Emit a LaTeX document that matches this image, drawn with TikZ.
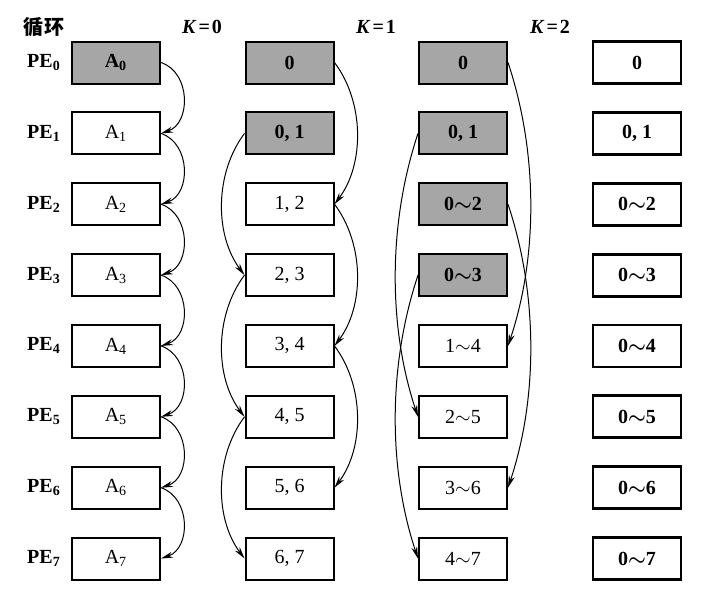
\documentclass[tikz,border=0pt]{standalone}
\usepackage{fontspec}
\setmainfont{Liberation Serif}
\newfontfamily\cjk{Noto Sans CJK SC}
\usetikzlibrary{arrows.meta}
\tikzset{
  cell/.style={draw, line width=1pt, minimum width=44pt, minimum height=21pt, inner sep=0pt, font=\normalsize},
  busy/.style={cell, fill=black!35, font=\normalsize\bfseries\boldmath},
  done/.style={cell, line width=1.4pt, font=\normalsize\bfseries\boldmath},
  hop/.style={-{Stealth[length=6pt,width=3pt]}, line width=0.5pt},
}

\begin{document}
\begin{tikzpicture}[x=0.5pt,y=-0.5pt]
\useasboundingbox (0,0) rectangle (710,601);
% headings
\draw(44,27) node (loop) {\cjk\bfseries 循环};
\draw(202,27) node (k0) {\textbf{\textit{K}\kern1pt=\kern1pt0}};
\draw(376,27) node (k1) {\textbf{\textit{K}\kern1pt=\kern1pt1}};
\draw(550,27) node (k2) {\textbf{\textit{K}\kern1pt=\kern1pt2}};
% processors
\draw(44,62.5) node (pe0) {\textbf{PE\textsubscript{0}}};
\draw(44,133.4) node (pe1) {\textbf{PE\textsubscript{1}}};
\draw(44,204.2) node (pe2) {\textbf{PE\textsubscript{2}}};
\draw(44,275.1) node (pe3) {\textbf{PE\textsubscript{3}}};
\draw(44,345.9) node (pe4) {\textbf{PE\textsubscript{4}}};
\draw(44,416.8) node (pe5) {\textbf{PE\textsubscript{5}}};
\draw(44,487.7) node (pe6) {\textbf{PE\textsubscript{6}}};
\draw(44,558.5) node (pe7) {\textbf{PE\textsubscript{7}}};
% K=0
\draw(116,62.5) node[busy] (a0) {A\textsubscript{0}};
\draw(116,133.4) node[cell] (a1) {A\textsubscript{1}};
\draw(116,204.2) node[cell] (a2) {A\textsubscript{2}};
\draw(116,275.1) node[cell] (a3) {A\textsubscript{3}};
\draw(116,345.9) node[cell] (a4) {A\textsubscript{4}};
\draw(116,416.8) node[cell] (a5) {A\textsubscript{5}};
\draw(116,487.7) node[cell] (a6) {A\textsubscript{6}};
\draw(116,558.5) node[cell] (a7) {A\textsubscript{7}};
% K=1
\draw(289.5,62.5) node[busy] (b0) {0};
\draw(289.5,133.4) node[busy] (b1) {0, 1};
\draw(289.5,204.2) node[cell] (b2) {1, 2};
\draw(289.5,275.1) node[cell] (b3) {2, 3};
\draw(289.5,345.9) node[cell] (b4) {3, 4};
\draw(289.5,416.8) node[cell] (b5) {4, 5};
\draw(289.5,487.7) node[cell] (b6) {5, 6};
\draw(289.5,558.5) node[cell] (b7) {6, 7};
% K=2
\draw(463,62.5) node[busy] (c0) {0};
\draw(463,133.4) node[busy] (c1) {0, 1};
\draw(463,204.2) node[busy] (c2) {0$\sim$2};
\draw(463,275.1) node[busy] (c3) {0$\sim$3};
\draw(463,345.9) node[cell] (c4) {1$\sim$4};
\draw(463,416.8) node[cell] (c5) {2$\sim$5};
\draw(463,487.7) node[cell] (c6) {3$\sim$6};
\draw(463,558.5) node[cell] (c7) {4$\sim$7};
% result
\draw(637,62.5) node[done] (d0) {0};
\draw(637,133.4) node[done] (d1) {0, 1};
\draw(637,204.2) node[done] (d2) {0$\sim$2};
\draw(637,275.1) node[done] (d3) {0$\sim$3};
\draw(637,345.9) node[done] (d4) {0$\sim$4};
\draw(637,416.8) node[done] (d5) {0$\sim$5};
\draw(637,487.7) node[done] (d6) {0$\sim$6};
\draw(637,558.5) node[done] (d7) {0$\sim$7};

\draw[hop] (a0.east) .. controls +(30,10) and +(30,-10) .. (a1.east);
\draw[hop] (a1.east) .. controls +(30,10) and +(30,-10) .. (a2.east);
\draw[hop] (a2.east) .. controls +(30,10) and +(30,-10) .. (a3.east);
\draw[hop] (a3.east) .. controls +(30,10) and +(30,-10) .. (a4.east);
\draw[hop] (a4.east) .. controls +(30,10) and +(30,-10) .. (a5.east);
\draw[hop] (a5.east) .. controls +(30,10) and +(30,-10) .. (a6.east);
\draw[hop] (a6.east) .. controls +(30,10) and +(30,-10) .. (a7.east);

\draw[hop] (b0.east) .. controls +(30,40) and +(30,-40) .. (b2.east);
\draw[hop] (b2.east) .. controls +(30,40) and +(30,-40) .. (b4.east);
\draw[hop] (b4.east) .. controls +(30,40) and +(30,-40) .. (b6.east);
\draw[hop] (b1.west) .. controls +(-30,40) and +(-30,-40) .. (b3.west);
\draw[hop] (b3.west) .. controls +(-30,40) and +(-30,-40) .. (b5.west);
\draw[hop] (b5.west) .. controls +(-30,40) and +(-30,-40) .. (b7.west);

\draw[hop] (c0.east) .. controls +(30,90) and +(30,-90) .. (c4.east);
\draw[hop] (c2.east) .. controls +(30,90) and +(30,-90) .. (c6.east);
\draw[hop] (c1.west) .. controls +(-30,90) and +(-30,-90) .. (c5.west);
\draw[hop] (c3.west) .. controls +(-30,90) and +(-30,-90) .. (c7.west);
\end{tikzpicture}
\end{document}
